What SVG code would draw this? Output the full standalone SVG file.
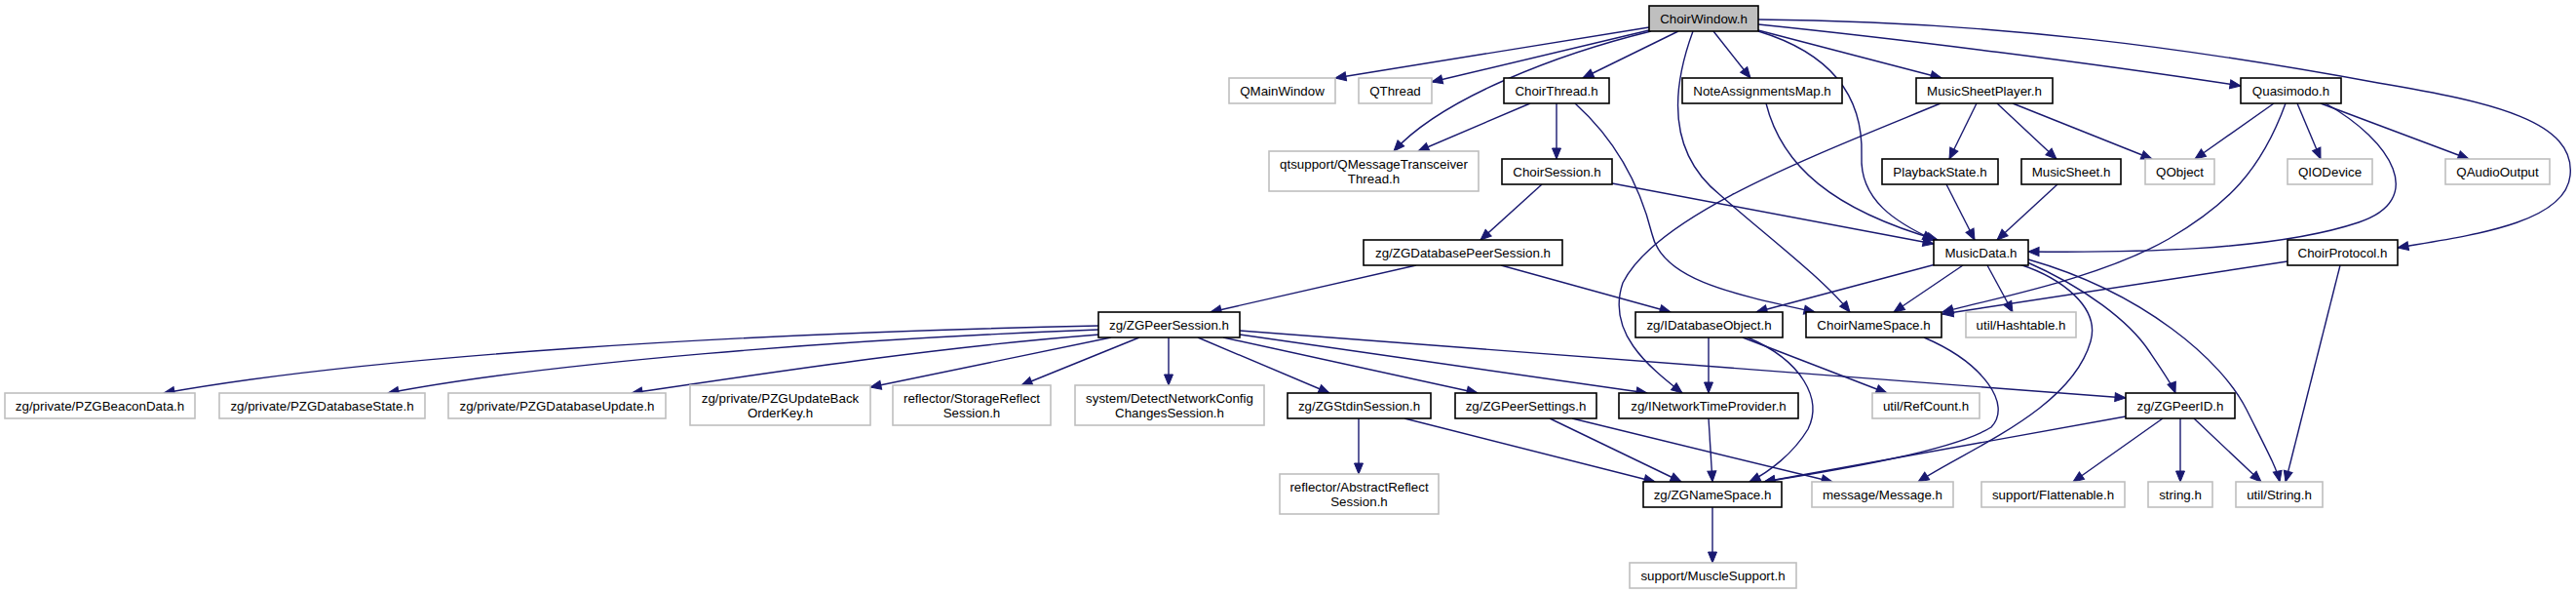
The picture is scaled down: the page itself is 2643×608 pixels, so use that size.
<svg xmlns="http://www.w3.org/2000/svg" width="2643" height="608" viewBox="0 0 2643 608">
<style>
.n rect{fill:#fff;stroke:#000;stroke-width:1.6}
.g rect{fill:#fff;stroke:#bfbfbf;stroke-width:1.6}
.root rect{fill:#bfbfbf;stroke:#000;stroke-width:1.6}
text{font-family:"Liberation Sans",Arial,Helvetica,sans-serif;font-size:13.33px;text-anchor:middle;fill:#000}
#edges path{fill:none;stroke:#191970;stroke-width:1.4;marker-end:url(#a)}
</style>
<defs>
<marker id="a" markerUnits="userSpaceOnUse" markerWidth="13" markerHeight="10" refX="11" refY="4.5" orient="auto" overflow="visible">
<path d="M0,0 L11,4.5 L0,9 z" fill="#191970" stroke="#191970" stroke-width="1"/>
</marker>
</defs>
<rect width="2643" height="608" fill="#fff"/>
<g id="edges">
<path d="M1692,28 L1370,80"/>
<path d="M1692,31 L1469,84"/>
<path d="M1694,32 C1600,55 1480,100 1430,155"/>
<path d="M1722,32 L1624,80"/>
<path d="M1737,32 C1712,100 1715,160 1765,200 C1810,240 1870,285 1898,320"/>
<path d="M1758,32 L1796,80"/>
<path d="M1804,32 C1880,55 1912,100 1910,160 C1908,205 1945,228 1984,246"/>
<path d="M1800,30 L1992,80"/>
<path d="M1804,25 C1950,40 2150,65 2299,88"/>
<path d="M1804,20 C2050,22 2250,50 2440,85 C2560,105 2643,125 2637,180 C2632,230 2530,242 2460,254"/>
<path d="M1570,106 L1455,155"/>
<path d="M1597,106 L1597,163"/>
<path d="M1616,106 C1665,150 1685,200 1695,240 C1705,285 1770,300 1862,320"/>
<path d="M1582,189 L1519,246"/>
<path d="M1654,188 L1984,250"/>
<path d="M1812,106 C1828,170 1880,215 1988,246"/>
<path d="M2028,106 L2000,163"/>
<path d="M2049,106 L2110,163"/>
<path d="M2065,106 L2208,163"/>
<path d="M1991,106 C1860,160 1700,220 1665,290 C1648,340 1690,375 1726,403"/>
<path d="M2333,106 L2252,163"/>
<path d="M2357,106 L2381,163"/>
<path d="M2381,106 L2533,163"/>
<path d="M2386,106 C2455,145 2490,205 2420,228 C2330,258 2180,259 2081,258"/>
<path d="M2345,106 C2320,175 2285,210 2225,245 C2155,285 2050,305 1993,320"/>
<path d="M1997,189 L2026,246"/>
<path d="M2111,189 L2049,246"/>
<path d="M1986,271 L1802,320"/>
<path d="M2014,272 L1943,320"/>
<path d="M2039,272 L2065,320"/>
<path d="M2072,271 C2115,285 2155,315 2145,350 C2125,420 2020,460 1968,494"/>
<path d="M2078,268 C2140,295 2185,330 2205,360 C2220,382 2229,395 2232,403"/>
<path d="M2081,266 C2200,300 2280,370 2305,420 C2325,460 2336,480 2339,494"/>
<path d="M2347,268 L1993,322"/>
<path d="M2401,272 L2345,494"/>
<path d="M1974,346 C2035,372 2065,415 2043,438 C2005,462 1885,482 1810,494"/>
<path d="M1453,272 L1242,320"/>
<path d="M1540,272 L1714,320"/>
<path d="M1127,334 C750,342 380,365 168,403"/>
<path d="M1127,338 C860,348 560,372 398,403"/>
<path d="M1128,343 C960,356 790,382 648,403"/>
<path d="M1140,346 L893,397"/>
<path d="M1169,346 L1048,395"/>
<path d="M1199,346 L1199,395"/>
<path d="M1229,346 L1364,403"/>
<path d="M1255,346 L1516,403"/>
<path d="M1272,343 L1690,403"/>
<path d="M1272,339 L2181,408"/>
<path d="M1753,346 L1753,403"/>
<path d="M1788,346 L1936,403"/>
<path d="M1793,346 C1850,370 1870,410 1855,440 C1840,465 1815,484 1795,494"/>
<path d="M1753,429 L1757,494"/>
<path d="M1394,429 L1394,486"/>
<path d="M1441,429 L1698,494"/>
<path d="M1590,429 L1725,494"/>
<path d="M1613,429 L1880,494"/>
<path d="M2181,427 L1810,494"/>
<path d="M2219,429 L2127,494"/>
<path d="M2237,429 L2237,494"/>
<path d="M2251,429 L2320,494"/>
<path d="M1757,520 L1757,577"/>
</g>
<g id="n_ChoirWindow" class="root"><rect x="1692" y="6" width="112" height="26"/><text x="1748" y="23.7">ChoirWindow.h</text></g>
<g id="n_QMainWindow" class="g"><rect x="1261" y="80" width="109" height="26"/><text x="1315.5" y="97.7">QMainWindow</text></g>
<g id="n_QThread" class="g"><rect x="1394" y="80" width="75" height="26"/><text x="1431.5" y="97.7">QThread</text></g>
<g id="n_ChoirThread" class="n"><rect x="1543" y="80" width="108" height="26"/><text x="1597" y="97.7">ChoirThread.h</text></g>
<g id="n_NoteAssignmentsMap" class="n"><rect x="1726" y="80" width="164" height="26"/><text x="1808" y="97.7">NoteAssignmentsMap.h</text></g>
<g id="n_MusicSheetPlayer" class="n"><rect x="1966" y="80" width="140" height="26"/><text x="2036" y="97.7">MusicSheetPlayer.h</text></g>
<g id="n_Quasimodo" class="n"><rect x="2299" y="80" width="103" height="26"/><text x="2350.5" y="97.7">Quasimodo.h</text></g>
<g id="n_QMessageTransceiverThread" class="g"><rect x="1302" y="155" width="215" height="41"/><text x="1409.5" y="172.7">qtsupport/QMessageTransceiver</text><text x="1409.5" y="187.7">Thread.h</text></g>
<g id="n_ChoirSession" class="n"><rect x="1541" y="163" width="113" height="26"/><text x="1597.5" y="180.7">ChoirSession.h</text></g>
<g id="n_PlaybackState" class="n"><rect x="1931" y="163" width="119" height="26"/><text x="1990.5" y="180.7">PlaybackState.h</text></g>
<g id="n_MusicSheet" class="n"><rect x="2074" y="163" width="102" height="26"/><text x="2125" y="180.7">MusicSheet.h</text></g>
<g id="n_QObject" class="g"><rect x="2201" y="163" width="71" height="26"/><text x="2236.5" y="180.7">QObject</text></g>
<g id="n_QIODevice" class="g"><rect x="2347" y="163" width="87" height="26"/><text x="2390.5" y="180.7">QIODevice</text></g>
<g id="n_QAudioOutput" class="g"><rect x="2509" y="163" width="107" height="26"/><text x="2562.5" y="180.7">QAudioOutput</text></g>
<g id="n_ZGDatabasePeerSession" class="n"><rect x="1399" y="246" width="204" height="26"/><text x="1501" y="263.7">zg/ZGDatabasePeerSession.h</text></g>
<g id="n_MusicData" class="n"><rect x="1984" y="246" width="97" height="26"/><text x="2032.5" y="263.7">MusicData.h</text></g>
<g id="n_ChoirProtocol" class="n"><rect x="2347" y="246" width="113" height="26"/><text x="2403.5" y="263.7">ChoirProtocol.h</text></g>
<g id="n_ZGPeerSession" class="n"><rect x="1127" y="320" width="145" height="26"/><text x="1199.5" y="337.7">zg/ZGPeerSession.h</text></g>
<g id="n_IDatabaseObject" class="n"><rect x="1678" y="320" width="151" height="26"/><text x="1753.5" y="337.7">zg/IDatabaseObject.h</text></g>
<g id="n_ChoirNameSpace" class="n"><rect x="1853" y="320" width="139" height="26"/><text x="1922.5" y="337.7">ChoirNameSpace.h</text></g>
<g id="n_Hashtable" class="g"><rect x="2017" y="320" width="113" height="26"/><text x="2073.5" y="337.7">util/Hashtable.h</text></g>
<g id="n_PZGBeaconData" class="g"><rect x="5" y="403" width="195" height="26"/><text x="102.5" y="420.7">zg/private/PZGBeaconData.h</text></g>
<g id="n_PZGDatabaseState" class="g"><rect x="225" y="403" width="211" height="26"/><text x="330.5" y="420.7">zg/private/PZGDatabaseState.h</text></g>
<g id="n_PZGDatabaseUpdate" class="g"><rect x="460" y="403" width="223" height="26"/><text x="571.5" y="420.7">zg/private/PZGDatabaseUpdate.h</text></g>
<g id="n_PZGUpdateBackOrderKey" class="g"><rect x="708" y="395" width="185" height="41"/><text x="800.5" y="412.7">zg/private/PZGUpdateBack</text><text x="800.5" y="427.7">OrderKey.h</text></g>
<g id="n_StorageReflectSession" class="g"><rect x="916" y="395" width="162" height="41"/><text x="997" y="412.7">reflector/StorageReflect</text><text x="997" y="427.7">Session.h</text></g>
<g id="n_DetectNetworkConfigChangesSession" class="g"><rect x="1103" y="395" width="194" height="41"/><text x="1200" y="412.7">system/DetectNetworkConfig</text><text x="1200" y="427.7">ChangesSession.h</text></g>
<g id="n_ZGStdinSession" class="n"><rect x="1321" y="403" width="147" height="26"/><text x="1394.5" y="420.7">zg/ZGStdinSession.h</text></g>
<g id="n_ZGPeerSettings" class="n"><rect x="1493" y="403" width="145" height="26"/><text x="1565.5" y="420.7">zg/ZGPeerSettings.h</text></g>
<g id="n_INetworkTimeProvider" class="n"><rect x="1661" y="403" width="184" height="26"/><text x="1753" y="420.7">zg/INetworkTimeProvider.h</text></g>
<g id="n_RefCount" class="g"><rect x="1921" y="403" width="110" height="26"/><text x="1976" y="420.7">util/RefCount.h</text></g>
<g id="n_ZGPeerID" class="n"><rect x="2181" y="403" width="112" height="26"/><text x="2237" y="420.7">zg/ZGPeerID.h</text></g>
<g id="n_AbstractReflectSession" class="g"><rect x="1313" y="486" width="163" height="41"/><text x="1394.5" y="503.7">reflector/AbstractReflect</text><text x="1394.5" y="518.7">Session.h</text></g>
<g id="n_ZGNameSpace" class="n"><rect x="1686" y="494" width="142" height="26"/><text x="1757" y="511.7">zg/ZGNameSpace.h</text></g>
<g id="n_Message" class="g"><rect x="1859" y="494" width="145" height="26"/><text x="1931.5" y="511.7">message/Message.h</text></g>
<g id="n_Flattenable" class="g"><rect x="2033" y="494" width="147" height="26"/><text x="2106.5" y="511.7">support/Flattenable.h</text></g>
<g id="n_string" class="g"><rect x="2204" y="494" width="66" height="26"/><text x="2237" y="511.7">string.h</text></g>
<g id="n_String" class="g"><rect x="2294" y="494" width="89" height="26"/><text x="2338.5" y="511.7">util/String.h</text></g>
<g id="n_MuscleSupport" class="g"><rect x="1672" y="577" width="171" height="26"/><text x="1757.5" y="594.7">support/MuscleSupport.h</text></g>
</svg>
